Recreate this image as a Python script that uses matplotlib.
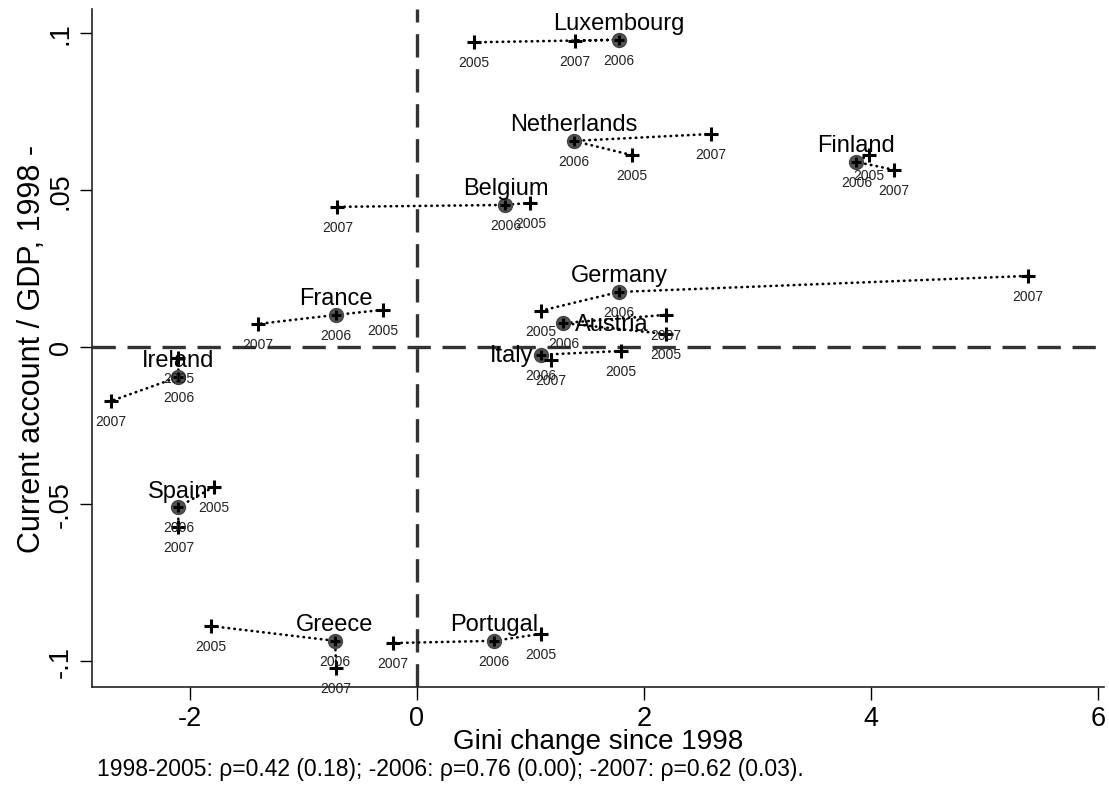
import matplotlib.pyplot as plt
import numpy as np

plt.rcParams['font.family'] = ['Liberation Sans', 'DejaVu Sans']

# Gini change since 1998 (x) and current account / GDP (y), by country and year
countries = ['Luxembourg', 'Netherlands', 'Finland', 'Belgium', 'France', 'Ireland',
             'Germany', 'Austria', 'Italy', 'Spain', 'Greece', 'Portugal']
x2005 = [0.50, 1.89, 3.98, 1.00, -0.30, -2.10, 1.09, 2.19, 1.80, -1.79, -1.81, 1.09]
y2005 = [0.0970, 0.0611, 0.0611, 0.0459, 0.0118, -0.0035, 0.0115, 0.0041, -0.0013, -0.0446, -0.0889, -0.0914]
x2006 = [1.78, 1.38, 3.87, 0.78, -0.71, -2.10, 1.78, 1.29, 1.09, -2.10, -0.72, 0.68]
y2006 = [0.0978, 0.0656, 0.0589, 0.0452, 0.0102, -0.0096, 0.0175, 0.0076, -0.0025, -0.0510, -0.0936, -0.0936]
x2007 = [1.39, 2.59, 4.20, -0.70, -1.40, -2.69, 5.38, 2.19, 1.18, -2.10, -0.71, -0.21]
y2007 = [0.0975, 0.0678, 0.0564, 0.0446, 0.0073, -0.0172, 0.0226, 0.0102, -0.0041, -0.0573, -0.1022, -0.0943]

footnote = '1998-2005: \u03c1=0.42 (0.18); -2006: \u03c1=0.76 (0.00); -2007: \u03c1=0.62 (0.03).'

fig = plt.figure(figsize=(11.09, 8.04), dpi=100)
ax = fig.add_axes([92/1109, 116/804, 1012/1109, 678/804])

# reference lines through the origin
ax.axvline(0, color='#333333', lw=2.4, ls=(0, (7, 3.5)), zorder=1)
ax.axhline(0, color='#333333', lw=2.4, ls=(0, (7, 3.5)), zorder=1)

for i, c in enumerate(countries):
    ax.plot([x2005[i], x2006[i], x2007[i]], [y2005[i], y2006[i], y2007[i]],
            color='black', lw=1.9, ls=(0, (0.2, 2.0)), dash_capstyle='round', zorder=2)
    ax.plot(x2006[i], y2006[i], 'o', ms=10, color='#555555', mec='#444444', zorder=3)
    ax.plot([x2005[i], x2007[i]], [y2005[i], y2007[i]], '+', ms=10, mew=2.2,
            color='black', ls='none', zorder=4)
    ax.plot(x2006[i], y2006[i], '+', ms=7, mew=2.2, color='black', zorder=4)
    for xx, yy, yr in [(x2005[i], y2005[i], '2005'), (x2006[i], y2006[i], '2006'),
                       (x2007[i], y2007[i], '2007')]:
        ax.annotate(yr, (xx, yy), xytext=(0, -9.5), textcoords='offset points',
                    ha='center', va='top', fontsize=10, color='#222222', zorder=5)
    if c == 'Italy':
        ax.annotate(c, (x2006[i], y2006[i]), xytext=(-5, 0), textcoords='offset points',
                    ha='right', va='center', fontsize=17, zorder=5)
    elif c == 'Austria':
        ax.annotate(c, (x2006[i], y2006[i]), xytext=(8, -1), textcoords='offset points',
                    ha='left', va='center', fontsize=17, zorder=5)
    else:
        ax.annotate(c, (x2006[i], y2006[i]), xytext=(0, 4), textcoords='offset points',
                    ha='center', va='bottom', fontsize=17, zorder=5)

ax.set_xlim(-2.86, 6.05)
ax.set_ylim(-0.1083, 0.1076)
ax.set_xticks([-2, 0, 2, 4, 6])
ax.set_xticklabels(['-2', '0', '2', '4', '6'])
ax.set_yticks([-0.1, -0.05, 0, 0.05, 0.1])
ax.set_yticklabels(['-.1', '-.05', '0', '.05', '.1'], rotation=90, va='center')
ax.tick_params(axis='both', length=9, width=1, labelsize=19.5, pad=4)

for s in ['top', 'right']:
    ax.spines[s].set_visible(False)
for s in ['left', 'bottom']:
    ax.spines[s].set_linewidth(1.2)
    ax.spines[s].set_color('#222222')

ax.set_xlabel('Gini change since 1998', fontsize=20, labelpad=-2)
ax.set_ylabel('Current account / GDP, 1998 -', fontsize=22, labelpad=1)

fig.text(97/1109, 1 - 770/804, footnote, fontsize=16.5, va='center', ha='left')

fig.savefig('out.png', dpi=100, facecolor='white')
